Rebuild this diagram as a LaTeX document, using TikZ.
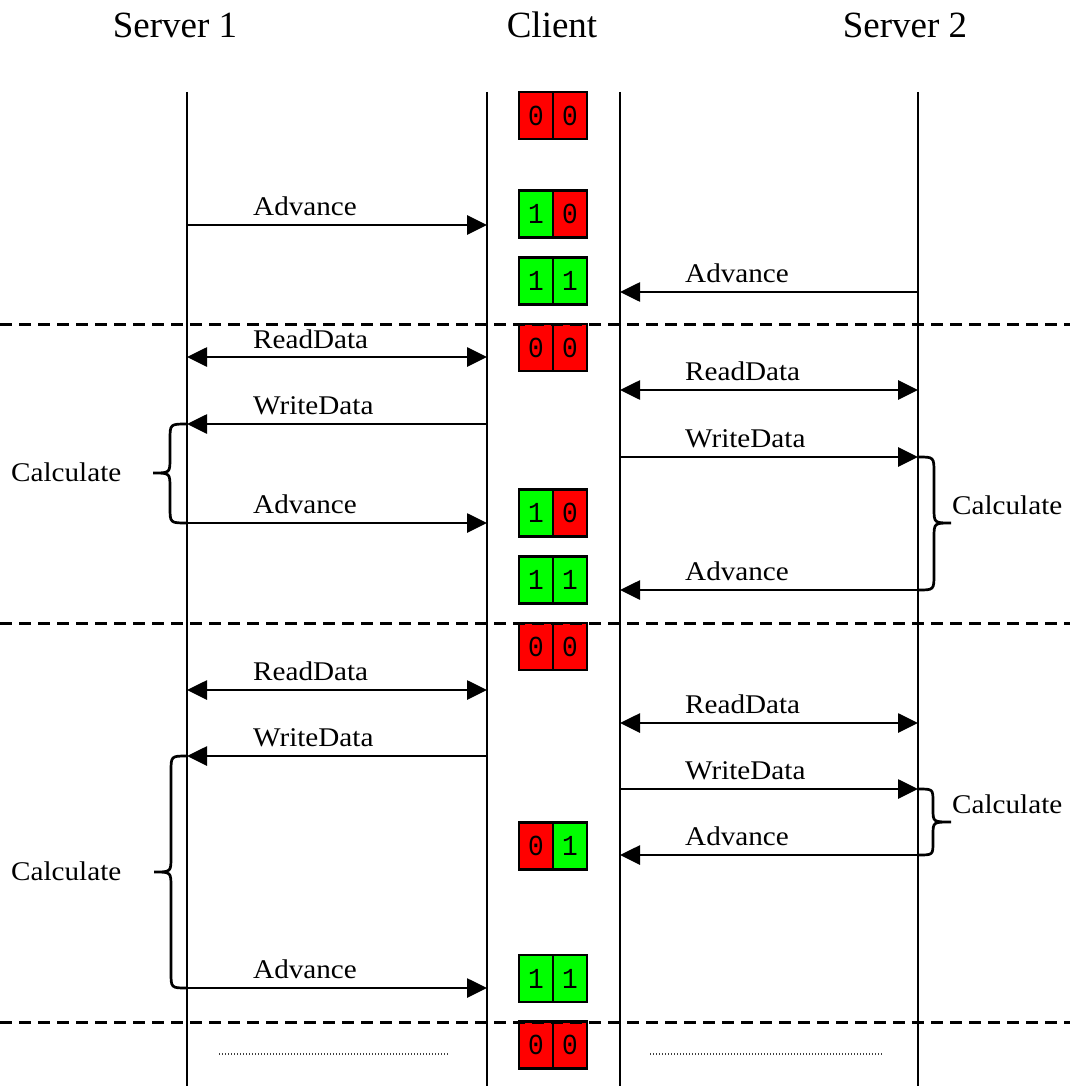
\documentclass[tikz,border=0pt]{standalone}
\usepackage{fontspec}
\setmainfont{Liberation Serif}
\newfontfamily\labfont[FakeStretch=1.08]{Liberation Serif}
\newfontfamily\digfont[FakeStretch=0.9]{Liberation Mono}
\usetikzlibrary{arrows.meta}

\definecolor{c0}{RGB}{255,0,0}
\definecolor{c1}{RGB}{0,255,0}

% one client state: two flag cells side by side
\newcommand\stbox[4]{%
  \node[cell, fill=c#3] (#1a) at (536,#2) {#3};
  \node[cell, fill=c#4] (#1b) at (570,#2) {#4};}

\begin{document}
\begin{tikzpicture}[x=1pt,y=-1pt,
  lifeline/.style={line width=2.7pt},
  sep/.style={line width=3pt, dash pattern=on 12pt off 7pt},
  msg/.style={line width=2.7pt, -{Triangle[length=20pt,width=19pt]}},
  bimsg/.style={line width=2.7pt, {Triangle[length=20pt,width=19pt]}-{Triangle[length=20pt,width=19pt]}},
  lab/.style={anchor=base west, inner sep=0pt, font=\labfont\fontsize{27}{27}\selectfont},
  head/.style={anchor=base, inner sep=0pt, font=\fontsize{37}{37}\selectfont},
  cell/.style={draw, line width=2.4pt, minimum width=34pt, minimum height=47pt, inner sep=0pt,
    font=\digfont\fontsize{29}{29}\selectfont},
  brace/.style={line width=2.7pt},
  ellip/.style={line width=2.2pt, dash pattern=on 1.2pt off 1.8pt, black!75}
]
\useasboundingbox (0,0) rectangle (1070,1086);

% column headings
\node[head] (h1) at (175,38) {Server 1};
\node[head] (h2) at (552,38) {Client};
\node[head] (h3) at (905,38) {Server 2};

% lifelines
\coordinate (S1) at (187,92);  \coordinate (S1e) at (187,1086);
\coordinate (CL) at (487,92);  \coordinate (CLe) at (487,1086);
\coordinate (CR) at (620,92);  \coordinate (CRe) at (620,1086);
\coordinate (S2) at (918,92);  \coordinate (S2e) at (918,1086);
\foreach \a/\b in {S1/S1e, CL/CLe, CR/CRe, S2/S2e}
  \draw[lifeline] (\a) -- (\b);

% client flag states
\stbox{b1}{115.5}{0}{0}
\stbox{b2}{214}{1}{0}
\stbox{b3}{281}{1}{1}
\stbox{b4}{347.5}{0}{0}
\stbox{b5}{513}{1}{0}
\stbox{b6}{580}{1}{1}
\stbox{b7}{646.5}{0}{0}
\stbox{b8}{846}{0}{1}
\stbox{b9}{978.5}{1}{1}
\stbox{b10}{1045}{0}{0}

% round separators
\foreach \n/\y in {1/324, 2/623, 3/1022} {
  \coordinate (sep\n L) at (0,\y);
  \coordinate (sep\n R) at (1070,\y);
  \draw[sep] (sep\n L) -- (sep\n R);
}

% round 1
\draw[msg] (S1 |- 0,225) -- (CL |- 0,225);
\node[lab] (t1) at (253,215) {Advance};
\draw[msg] (S2 |- 0,292) -- (CR |- 0,292);
\node[lab] (t2) at (685,282) {Advance};

% round 2
\draw[bimsg] (S1 |- 0,357) -- (CL |- 0,357);
\node[lab] (t3) at (253,348) {ReadData};
\draw[bimsg] (CR |- 0,390) -- (S2 |- 0,390);
\node[lab] (t4) at (685,380) {ReadData};
\draw[msg] (CL |- 0,424) -- (S1 |- 0,424);
\node[lab] (t5) at (253,414) {WriteData};
\draw[msg] (CR |- 0,457) -- (S2 |- 0,457);
\node[lab] (t6) at (685,447) {WriteData};
\draw[msg] (S1 |- 0,523) -- (CL |- 0,523);
\node[lab] (t7) at (253,513) {Advance};
\draw[msg] (S2 |- 0,590) -- (CR |- 0,590);
\node[lab] (t8) at (685,580) {Advance};

\draw[brace] (S1 |- 0,424) .. controls (170,424) .. (170,440) -- (170,458)
  .. controls (170,473) .. (153,473) .. controls (170,473) .. (170,488) -- (170,507)
  .. controls (170,523) .. (S1 |- 0,523);
\node[lab] (c1) at (11,481) {Calculate};
\draw[brace] (S2 |- 0,457) .. controls (934,457) .. (934,473) -- (934,508)
  .. controls (934,523) .. (951,523) .. controls (934,523) .. (934,538) -- (934,574)
  .. controls (934,590) .. (S2 |- 0,590);
\node[lab] (c2) at (952,514) {Calculate};

% round 3
\draw[bimsg] (S1 |- 0,690) -- (CL |- 0,690);
\node[lab] (t9) at (253,680) {ReadData};
\draw[bimsg] (CR |- 0,723) -- (S2 |- 0,723);
\node[lab] (t10) at (685,713) {ReadData};
\draw[msg] (CL |- 0,756) -- (S1 |- 0,756);
\node[lab] (t11) at (253,746) {WriteData};
\draw[msg] (CR |- 0,789) -- (S2 |- 0,789);
\node[lab] (t12) at (685,779) {WriteData};
\draw[msg] (S2 |- 0,855) -- (CR |- 0,855);
\node[lab] (t13) at (685,845) {Advance};
\draw[msg] (S1 |- 0,988) -- (CL |- 0,988);
\node[lab] (t14) at (253,978) {Advance};

\draw[brace] (S2 |- 0,789) .. controls (933,789) .. (933,802) -- (933,809)
  .. controls (933,822) .. (951,822) .. controls (933,822) .. (933,835) -- (933,842)
  .. controls (933,855) .. (S2 |- 0,855);
\node[lab] (c3) at (952,813) {Calculate};
\draw[brace] (S1 |- 0,756) .. controls (171,756) .. (171,772) -- (171,857)
  .. controls (171,872) .. (154,872) .. controls (171,872) .. (171,887) -- (171,972)
  .. controls (171,988) .. (S1 |- 0,988);
\node[lab] (c4) at (11,880) {Calculate};

% continuation marks
\coordinate (e1a) at (219,1054); \coordinate (e1b) at (449,1054);
\coordinate (e2a) at (650,1054); \coordinate (e2b) at (882,1054);
\draw[ellip] (e1a) -- (e1b);
\draw[ellip] (e2a) -- (e2b);
\end{tikzpicture}
\end{document}
